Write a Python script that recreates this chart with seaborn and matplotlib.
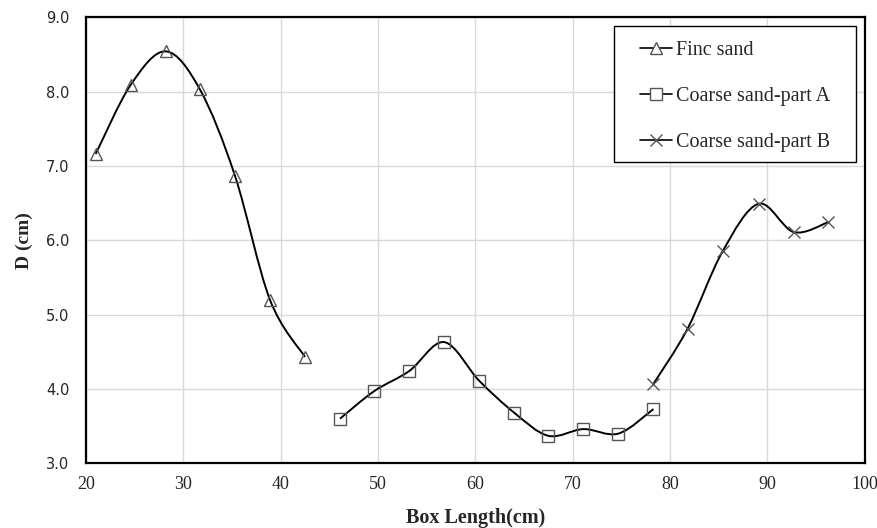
import numpy as np
import matplotlib
matplotlib.use("Agg")
import matplotlib.pyplot as plt
from matplotlib.path import Path
from matplotlib.patches import PathPatch, Rectangle
from matplotlib.lines import Line2D
import seaborn as sns

# --- data ---
fine_x = [21.0, 24.6, 28.2, 31.7, 35.3, 38.9, 42.5]
fine_y = [7.16, 8.09, 8.54, 8.03, 6.87, 5.20, 4.43]

coarse_a_x = [46.1, 49.6, 53.2, 56.8, 60.4, 64.0, 67.5, 71.1, 74.7, 78.3]
coarse_a_y = [3.60, 3.97, 4.24, 4.63, 4.11, 3.68, 3.37, 3.46, 3.40, 3.73]

coarse_b_x = [78.3, 81.8, 85.4, 89.1, 92.7, 96.2]
coarse_b_y = [4.07, 4.81, 5.85, 6.49, 6.11, 6.24]

labels = ["Finc sand", "Coarse sand-part A", "Coarse sand-part B"]
x_ticks = [20, 30, 40, 50, 60, 70, 80, 90, 100]
y_ticks = [3.0, 4.0, 5.0, 6.0, 7.0, 8.0, 9.0]


def smooth_path(xs, ys):
    """Excel-style smoothed line: cubic Bezier segments through the points."""
    p = np.column_stack([xs, ys])
    p_ext = np.vstack([p[0], p, p[-1]])
    verts = [p[0]]
    codes = [Path.MOVETO]
    for i in range(len(p) - 1):
        p0, p1, p2, p3 = p_ext[i], p_ext[i + 1], p_ext[i + 2], p_ext[i + 3]
        c1 = p1 + (p2 - p0) / 6.0
        c2 = p2 - (p3 - p1) / 6.0
        verts += [c1, c2, p2]
        codes += [Path.CURVE4] * 3
    return Path(verts, codes)


sns.set_style("white")
plt.rcParams["font.family"] = ["Liberation Serif", "DejaVu Serif"]

fig = plt.figure(figsize=(8.77, 5.28), dpi=100)
ax = fig.add_axes([0.098, 0.1225, 0.888, 0.845])

series = [
    (fine_x, fine_y, "^"),
    (coarse_a_x, coarse_a_y, "s"),
    (coarse_b_x, coarse_b_y, "x"),
]
marker_edge = "#555555"

handles = []
for (xs, ys, mk), lab in zip(series, labels):
    ax.add_patch(PathPatch(smooth_path(xs, ys), fill=False, ec="black", lw=1.4, zorder=3))
    sns.lineplot(x=xs, y=ys, ax=ax, marker=mk, linestyle="", sort=False,
                 mfc="none", mec=marker_edge, mew=1.0, ms=9, zorder=4)
    handles.append(Line2D([], [], color="black", lw=1.2, marker=mk, mfc="white",
                          mec=marker_edge, mew=1.0, ms=8, label=lab))

ax.set_xlim(20, 100)
ax.set_ylim(3.0, 9.0)
ax.set_xticks(x_ticks)
ax.set_yticks(y_ticks)
ax.set_yticklabels([f"{v:.1f}" for v in y_ticks], family="DejaVu Sans", fontsize=10.5)
ax.set_xticklabels([str(v) for v in x_ticks], fontsize=13)
ax.tick_params(axis="x", length=0, pad=9)
ax.tick_params(axis="y", length=0, pad=12)

ax.grid(True, color="#d9d9d9", lw=1.0)
ax.set_axisbelow(True)
for s in ax.spines.values():
    s.set_color("black")
    s.set_linewidth(1.6)

ax.set_xlabel("Box Length(cm)", fontsize=14.5, fontweight="bold", labelpad=11)
ax.set_ylabel("D (cm)", fontsize=14, fontweight="bold", labelpad=9.5)

# legend box drawn separately so its padding matches the original
ax.add_patch(Rectangle((0.678, 0.6756), 0.3107, 0.305, transform=ax.transAxes,
                       fill=True, fc="white", ec="black", lw=1.0, zorder=5))
leg = ax.legend(handles=handles, loc="upper left", bbox_to_anchor=(0.7116, 0.947),
                borderaxespad=0, borderpad=0, fontsize=14.5, frameon=False,
                labelspacing=1.35, handlelength=1.6, handletextpad=0.2)
leg.set_zorder(6)

fig.savefig("out.png", dpi=100)
